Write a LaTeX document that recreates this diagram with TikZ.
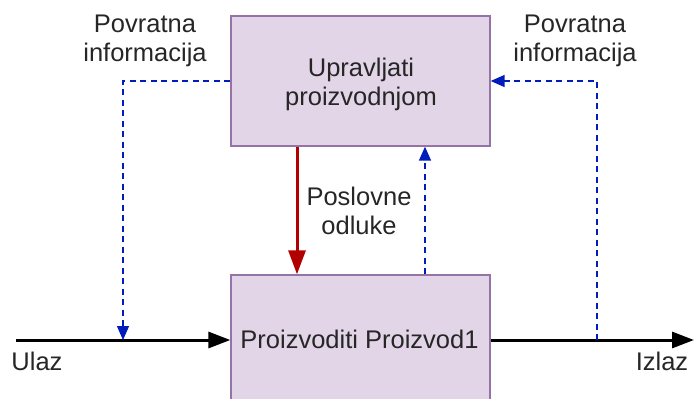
\documentclass[tikz,border=0pt]{standalone}
\usepackage{fontspec}
\setmainfont{Liberation Sans}
\usetikzlibrary{arrows.meta}
\definecolor{boxfill}{HTML}{E1D5E7}
\definecolor{boxdraw}{HTML}{9673A6}
\definecolor{fbblue}{HTML}{001DBC}
\definecolor{decred}{HTML}{B20000}
\begin{document}
\begin{tikzpicture}[x=1pt,y=-1pt,
  procbox/.style={draw=boxdraw,fill=boxfill,line width=1.3pt,minimum width=259pt,minimum height=130pt,inner sep=0pt},
  lbl/.style={align=center,inner sep=0pt,text=black!85,font=\fontsize{25.5}{28.5}\selectfont},
  flow/.style={line width=3pt,-{Triangle[length=22pt,width=16pt]}},
  fb/.style={draw=fbblue,line width=1.4pt,dash pattern=on 6pt off 4.5pt,-{Triangle[length=14pt,width=12pt]}},
  decision/.style={draw=decred,line width=3pt,-{Triangle[length=24pt,width=17pt]}}]
\useasboundingbox (0,0) rectangle (694,399);
\clip (0,0) rectangle (694,399);
\node[procbox] (top) at (360.5,81) {};
\node[procbox] (bot) at (360.5,340) {};
\node[lbl] (toplbl) at (361,84.5) {Upravljati\\proizvodnjom};
\node[lbl] (botlbl) at (359.5,339) {Proizvoditi Proizvod1};
\coordinate (inS) at (16,340);
\coordinate (outE) at (694,340);
\coordinate (fbL) at (123,340);
\coordinate (fbR) at (597,340);
\draw[flow] (inS) -- (bot.west);
\draw[flow] (bot.east) -- (outE);
\draw[fb] (top.west) -| (fbL);
\draw[fb] (fbR) |- (top.east);
\draw[fb] ([xshift=64.5pt]bot.north) -- ([xshift=64.5pt]top.south);
\draw[decision] ([xshift=-63.5pt]top.south) -- ([xshift=-63.5pt]bot.north);
\node[lbl] (fbLl) at (145,41) {Povratna\\informacija};
\node[lbl] (fbRl) at (575,41) {Povratna\\informacija};
\node[lbl] (decl) at (359,211) {Poslovne\\odluke};
\node[lbl] (inl) at (37,361) {Ulaz};
\node[lbl] (outl) at (662,361) {Izlaz};
\end{tikzpicture}
\end{document}
